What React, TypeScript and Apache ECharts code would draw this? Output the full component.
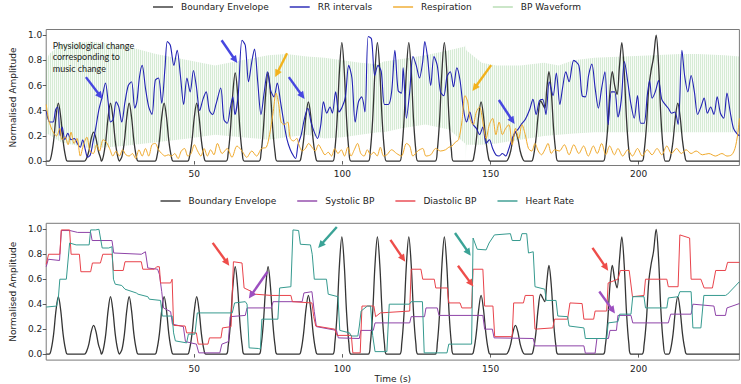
import React, { useEffect, useRef } from "react";
import * as echarts from "echarts";

// ---- axes -------------------------------------------------------------
const X_MAX = 234;
const X_TICKS = [50, 100, 150, 200];
const Y_TICKS = [0, 0.2, 0.4, 0.6, 0.8, 1.0];

// ---- boundary envelope (time s, amplitude) ----------------------------
const ENVELOPE: number[][] = [
  [0, 0],
  [1.0, 0], [1.7, 0.04], [2.5, 0.16], [3.3, 0.35], [4.1, 0.46], [4.9, 0.35], [5.7, 0.16], [6.5, 0.04], [7.2, 0],
  [12.9, 0], [13.6, 0.02], [14.4, 0.08], [15.2, 0.18], [16.0, 0.23], [16.8, 0.18], [17.6, 0.08], [18.4, 0.02],
  [18.6, 0], [19.3, 0.04], [20.1, 0.16], [20.9, 0.35], [21.7, 0.46], [22.5, 0.35], [23.3, 0.16], [24.1, 0.04], [24.8, 0],
  [24.9, 0], [25.6, 0.04], [26.4, 0.16], [27.2, 0.35], [28.0, 0.46], [28.8, 0.35], [29.6, 0.16], [30.4, 0.04], [31.1, 0],
  [36.7, 0], [37.4, 0.04], [38.2, 0.16], [39.0, 0.35], [39.8, 0.46], [40.6, 0.35], [41.4, 0.16], [42.2, 0.04], [42.9, 0],
  [47.7, 0], [48.4, 0.04], [49.2, 0.16], [50.0, 0.35], [50.8, 0.46], [51.6, 0.35], [52.4, 0.16], [53.2, 0.04], [53.9, 0],
  [60.7, 0], [61.4, 0.06], [62.2, 0.25], [63.0, 0.54], [63.8, 0.70], [64.6, 0.54], [65.4, 0.25], [66.2, 0.06], [66.9, 0],
  [71.8, 0], [72.5, 0.06], [73.3, 0.25], [74.1, 0.54], [74.9, 0.70], [75.7, 0.54], [76.5, 0.25], [77.3, 0.06], [78.0, 0],
  [85.4, 0], [86.1, 0.04], [86.9, 0.17], [87.7, 0.36], [88.5, 0.47], [89.3, 0.36], [90.1, 0.17], [90.9, 0.04], [91.6, 0],
  [96.7, 0], [97.4, 0.08], [98.2, 0.33], [99.0, 0.72], [99.8, 0.94], [100.6, 0.72], [101.4, 0.33], [102.2, 0.08], [102.9, 0],
  [108.7, 0], [109.4, 0.08], [110.2, 0.33], [111.0, 0.72], [111.8, 0.94], [112.6, 0.72], [113.4, 0.33], [114.2, 0.08], [114.9, 0],
  [119.3, 0], [120.0, 0.08], [120.8, 0.33], [121.6, 0.72], [122.4, 0.94], [123.2, 0.72], [124.0, 0.33], [124.8, 0.08], [125.5, 0],
  [131.3, 0], [132.0, 0.08], [132.8, 0.33], [133.6, 0.72], [134.4, 0.94], [135.2, 0.72], [136.0, 0.33], [136.8, 0.08], [137.5, 0],
  [143.7, 0], [144.4, 0.04], [145.2, 0.17], [146.0, 0.36], [146.8, 0.47], [147.6, 0.36], [148.4, 0.17], [149.2, 0.04], [149.9, 0],
  [155.3, 0], [156.0, 0.02], [156.8, 0.08], [157.6, 0.18], [158.4, 0.23], [159.2, 0.18], [160.0, 0.08], [160.8, 0.02], [161.5, 0],
  [163.8, 0], [164.5, 0.04], [165.3, 0.17], [166.1, 0.37], [166.9, 0.48], [167.6, 0.45], [168.3, 0.42], [169.0, 0.58], [169.7, 0.71], [170.5, 0.55], [171.3, 0.25], [172.1, 0.06], [172.8, 0],
  [188.0, 0], [188.7, 0.06], [189.5, 0.25], [190.3, 0.55], [191.1, 0.71], [191.9, 0.60], [192.7, 0.53], [193.5, 0.75], [194.3, 0.94], [195.1, 0.72], [195.9, 0.33], [196.7, 0.08], [197.4, 0],
  [201.1, 0], [201.8, 0.07], [202.6, 0.27], [203.4, 0.58], [204.2, 0.72], [205.0, 0.82], [205.9, 1.0], [206.7, 0.77], [207.5, 0.35], [208.3, 0.09], [209.0, 0],
  [210.1, 0], [210.8, 0.04], [211.6, 0.16], [212.4, 0.35], [213.2, 0.46], [214.0, 0.35], [214.8, 0.16], [215.6, 0.04], [216.3, 0],
  [234, 0],
];

// ---- top panel signals ------------------------------------------------
const RR_INTERVALS: number[][] = [
  [0, 0.40], [1.2, 0.31], [2.3, 0.31], [3.2, 0.41], [3.9, 0.43], [4.7, 0.20], [5.4, 0.27], [6.3, 0.17], [7.3, 0.22], [8.4, 0.17],
  [9.5, 0.18], [10.5, 0.14], [11.5, 0.11], [12.3, 0.17], [13.2, 0.09], [14.0, 0.03], [14.9, 0.05], [15.7, 0.14], [16.7, 0.26], [17.8, 0.41],
  [18.9, 0.51], [20.0, 0.62], [20.9, 0.47], [21.7, 0.31], [22.6, 0.33], [23.6, 0.47], [24.5, 0.43], [25.5, 0.31], [26.6, 0.47], [27.7, 0.60],
  [28.8, 0.63], [29.9, 0.42], [30.6, 0.47], [31.5, 0.67], [32.4, 0.76], [33.5, 0.58], [34.6, 0.43], [35.7, 0.37], [36.8, 0.64], [37.9, 0.66],
  [39.0, 0.46], [40.1, 0.74], [40.9, 0.95], [41.9, 0.92], [43.1, 0.76], [44.2, 0.88], [45.3, 0.68], [46.4, 0.45], [47.5, 0.66], [48.6, 0.55],
  [49.7, 0.72], [50.7, 0.59], [51.8, 0.40], [52.9, 0.49], [54.0, 0.55], [55.1, 0.40], [56.2, 0.37], [57.3, 0.45], [58.9, 0.58], [60.0, 0.33],
  [61.1, 0.30], [62.2, 0.43], [63.0, 0.51], [63.7, 0.37], [64.8, 0.52], [66.1, 0.96], [67.2, 0.92], [68.3, 0.63], [69.4, 0.79], [70.3, 0.89],
  [71.4, 0.63], [72.5, 0.37], [73.6, 0.55], [74.7, 0.71], [75.8, 0.56], [76.9, 0.51], [78.0, 0.62], [79.1, 0.47], [80.2, 0.31], [81.3, 0.17],
  [82.4, 0.09], [83.5, 0.04], [84.2, 0.02], [85.0, 0.13], [86.1, 0.21], [87.2, 0.34], [88.3, 0.42], [89.4, 0.31], [90.5, 0.23], [91.6, 0.18],
  [92.7, 0.29], [93.6, 0.47], [94.7, 0.38], [95.8, 0.43], [96.6, 0.38], [97.7, 0.55], [98.8, 0.39], [99.9, 0.43], [101.0, 0.51], [102.1, 0.76],
  [103.2, 0.66], [104.3, 0.31], [105.4, 0.47], [106.5, 0.51], [107.6, 0.39], [108.7, 0.99], [109.8, 0.97], [110.9, 0.68], [112.0, 0.76], [113.1, 0.71],
  [114.2, 0.45], [115.5, 0.45], [116.6, 0.55], [117.7, 0.88], [118.8, 0.56], [119.9, 0.54], [120.5, 0.74], [121.6, 0.34], [122.7, 0.55], [123.8, 0.83],
  [124.9, 0.76], [126.0, 0.66], [127.1, 0.79], [127.8, 0.95], [128.7, 0.83], [129.8, 0.60], [130.9, 0.83], [132.0, 0.76], [133.1, 0.55], [134.2, 0.52],
  [135.3, 0.67], [136.4, 0.71], [137.5, 0.59], [138.6, 0.74], [139.7, 0.64], [140.8, 0.42], [141.9, 0.31], [143.0, 0.39], [144.1, 0.29], [145.2, 0.26],
  [146.3, 0.21], [147.4, 0.27], [148.5, 0.14], [149.6, 0.17], [150.7, 0.10], [151.8, 0.05], [152.9, 0.04], [154.0, 0.06], [155.1, 0.04], [156.2, 0.10],
  [157.3, 0.18], [158.4, 0.23], [159.5, 0.26], [160.6, 0.30], [161.7, 0.33], [163.2, 0.41], [164.3, 0.49], [165.4, 0.37], [166.5, 0.48], [167.6, 0.49],
  [168.7, 0.37], [169.8, 0.63], [171.1, 0.52], [172.2, 0.70], [173.4, 0.45], [174.3, 0.58], [175.4, 0.71], [176.5, 0.63], [178.1, 0.80], [179.8, 0.76],
  [180.9, 0.52], [182.0, 0.51], [183.1, 0.68], [184.2, 0.77], [185.3, 0.58], [186.4, 0.42], [187.5, 0.58], [188.6, 0.71], [189.7, 0.29], [190.8, 0.55],
  [191.9, 0.55], [193.0, 0.35], [194.1, 0.48], [195.2, 0.79], [196.3, 0.63], [197.4, 0.45], [198.5, 0.34], [199.6, 0.52], [200.7, 0.30], [201.8, 0.30],
  [202.9, 0.52], [203.7, 0.64], [204.5, 0.50], [205.6, 0.55], [206.7, 0.64], [207.8, 0.49], [208.9, 0.45], [210.0, 0.42], [211.1, 0.38], [212.2, 0.39],
  [213.3, 0.29], [214.6, 0.88], [215.5, 0.68], [216.6, 0.55], [217.7, 0.68], [218.8, 0.55], [219.9, 0.37], [221.0, 0.43], [222.1, 0.50], [223.2, 0.38],
  [224.3, 0.43], [225.4, 0.37], [226.5, 0.51], [227.6, 0.38], [228.7, 0.34], [229.8, 0.54], [230.9, 0.39], [232.0, 0.26], [233.1, 0.22], [234.0, 0.20],
];

const RESPIRATION: number[][] = [
  [0, 0.45], [0.8, 0.33], [1.6, 0.27], [2.6, 0.22], [3.5, 0.20], [4.6, 0.26], [5.3, 0.17], [6.4, 0.19], [7.4, 0.13], [8.4, 0.23],
  [9.4, 0.14], [10.4, 0.18], [11.5, 0.04], [12.6, 0.13], [13.7, 0.19], [14.8, 0.08], [15.9, 0.06], [17.0, 0.13], [18.0, 0.08], [19.2, 0.17],
  [20.3, 0.15], [21.4, 0.10], [22.5, 0.04], [23.6, 0.08], [24.7, 0.04], [25.8, 0.09], [26.9, 0.05], [28.0, 0.04], [29.1, 0.06], [30.2, 0.02],
  [31.3, 0.09], [32.4, 0.04], [33.5, 0.10], [34.6, 0.04], [35.7, 0.13], [36.8, 0.14], [37.9, 0.09], [39.0, 0.06], [40.1, 0.04], [41.2, 0.05],
  [42.3, 0.04], [43.4, 0.06], [44.5, 0.02], [45.6, 0.08], [46.7, 0.10], [47.8, 0.04], [48.9, 0.06], [50.0, 0.13], [51.1, 0.08], [52.2, 0.04],
  [53.3, 0.10], [54.4, 0.04], [55.5, 0.09], [56.6, 0.05], [57.8, 0.14], [59.4, 0.06], [61.1, 0.10], [62.7, 0.03], [64.4, 0.12], [66.1, 0.08],
  [67.7, 0.03], [69.4, 0.08], [71.0, 0.04], [72.7, 0.10], [74.3, 0.11], [75.4, 0.21], [76.5, 0.37], [77.6, 0.54], [78.5, 0.45], [79.3, 0.31],
  [80.4, 0.29], [81.5, 0.31], [82.4, 0.18], [83.5, 0.16], [84.6, 0.18], [85.3, 0.13], [86.4, 0.08], [87.5, 0.10], [88.6, 0.14], [89.7, 0.11],
  [90.8, 0.08], [91.9, 0.13], [93.0, 0.09], [94.1, 0.05], [95.2, 0.07], [96.3, 0.04], [97.4, 0.10], [98.5, 0.06], [99.6, 0.09], [100.7, 0.04],
  [101.8, 0.11], [102.9, 0.04], [104.0, 0.09], [105.1, 0.14], [106.2, 0.06], [107.3, 0.04], [108.4, 0.09], [109.5, 0.05], [110.6, 0.07], [111.7, 0.04],
  [112.8, 0.11], [113.9, 0.04], [115.0, 0.05], [116.6, 0.09], [118.3, 0.06], [119.9, 0.04], [121.6, 0.14], [122.7, 0.12], [123.8, 0.04], [125.4, 0.08],
  [127.1, 0.10], [128.2, 0.04], [129.8, 0.05], [131.5, 0.10], [133.1, 0.08], [134.8, 0.09], [135.9, 0.11], [137.0, 0.12], [138.1, 0.15], [139.2, 0.17],
  [140.3, 0.31], [141.4, 0.52], [142.3, 0.47], [143.0, 0.34], [144.1, 0.29], [145.2, 0.39], [146.3, 0.43], [147.4, 0.31], [148.5, 0.18], [149.6, 0.29],
  [150.7, 0.34], [151.8, 0.21], [152.9, 0.31], [154.0, 0.21], [155.1, 0.26], [156.2, 0.29], [157.3, 0.13], [158.4, 0.26], [159.5, 0.18], [160.6, 0.29],
  [161.7, 0.21], [162.8, 0.10], [163.9, 0.08], [165.0, 0.14], [166.1, 0.08], [167.2, 0.05], [168.3, 0.09], [169.4, 0.14], [170.5, 0.06], [171.6, 0.09],
  [173.2, 0.08], [174.9, 0.13], [176.5, 0.05], [178.1, 0.13], [179.8, 0.06], [181.4, 0.12], [183.0, 0.04], [184.7, 0.12], [186.0, 0.06], [187.5, 0.14],
  [188.9, 0.05], [190.2, 0.12], [191.8, 0.05], [193.0, 0.10], [194.6, 0.04], [196.3, 0.09], [197.9, 0.04], [199.6, 0.10], [201.2, 0.04], [202.9, 0.09],
  [204.5, 0.05], [206.2, 0.10], [207.8, 0.05], [209.5, 0.12], [211.1, 0.06], [212.8, 0.10], [214.4, 0.06], [216.0, 0.09], [217.7, 0.06], [219.4, 0.08],
  [221.5, 0.05], [223.7, 0.06], [225.9, 0.04], [228.1, 0.06], [229.8, 0.04], [231.4, 0.05], [232.5, 0.10], [233.4, 0.21], [234.0, 0.34],
];

// BP waveform drawn as the band between its beat-to-beat extremes
const BP_TIME = [0, 1, 5, 15, 26, 37, 48, 57, 66, 75, 81, 88, 94, 100, 106, 112, 114, 120, 128, 136,
  141.4, 141.6, 141.8, 147, 152, 160, 168, 173, 178, 185, 195, 205, 214, 220, 229, 234];
const BP_UPPER = [0.80, 0.85, 0.93, 0.95, 0.92, 0.85, 0.80, 0.76, 0.80, 0.84, 0.85, 0.83, 0.82, 0.80, 0.78, 0.77, 0.79, 0.81, 0.84, 0.88,
  0.91, 0.93, 0.88, 0.78, 0.76, 0.76, 0.78, 0.76, 0.80, 0.82, 0.83, 0.84, 0.85, 0.85, 0.84, 0.83];
const BP_LOWER = [0.22, 0.21, 0.15, 0.10, 0.12, 0.15, 0.18, 0.21, 0.19, 0.17, 0.19, 0.21, 0.18, 0.19, 0.21, 0.23, 0.23, 0.26, 0.29, 0.25,
  0.14, 0.00, 0.13, 0.13, 0.14, 0.17, 0.20, 0.21, 0.22, 0.23, 0.23, 0.23, 0.23, 0.23, 0.23, 0.23];

// ---- bottom panel signals ---------------------------------------------
const SYSTOLIC_BP: number[][] = [
  [0, 0.70], [0.7, 0.76], [4.5, 0.75], [5.1, 0.99], [8.0, 0.99], [10.6, 0.975], [15.0, 0.975], [15.5, 0.91], [22.2, 0.91], [22.8, 0.81],
  [32.1, 0.80], [33.5, 0.82], [34.3, 0.69], [37.6, 0.68], [38.2, 0.64], [39.0, 0.50], [39.6, 0.37], [42.0, 0.34], [42.6, 0.24], [46.3, 0.22],
  [47.0, 0.10], [50.7, 0.08], [51.5, 0.01], [58.6, 0.01], [59.3, 0.08], [61.5, 0.10], [62.1, 0.30], [67.2, 0.31], [67.8, 0.37], [76.0, 0.37],
  [76.6, 0.42], [86.4, 0.42], [87.0, 0.49], [89.7, 0.50], [90.5, 0.34], [91.2, 0.22], [98.0, 0.19], [98.6, 0.13], [105.7, 0.125], [106.2, 0.19],
  [110.4, 0.19], [111.0, 0.25], [122.7, 0.25], [123.2, 0.30], [127.7, 0.30], [128.2, 0.37], [132.0, 0.37], [132.6, 0.31], [147.4, 0.31], [148.0, 0.20],
  [150.6, 0.20], [151.2, 0.13], [164.4, 0.125], [165.0, 0.066], [181.5, 0.066], [182.0, 0.008], [185.3, 0.008], [185.9, 0.125], [189.8, 0.125], [190.3, 0.19],
  [192.5, 0.19], [193.0, 0.31], [197.4, 0.31], [198.0, 0.25], [210.0, 0.25], [210.8, 0.32], [217.7, 0.32], [218.3, 0.40], [225.4, 0.385], [226.0, 0.31],
  [229.3, 0.31], [229.8, 0.37], [234, 0.405],
];

const DIASTOLIC_BP: number[][] = [
  [0, 0.72], [0.8, 0.80], [4.6, 0.80], [5.1, 0.995], [7.9, 0.995], [8.4, 0.80], [11.2, 0.80], [11.7, 0.66], [15.0, 0.66], [15.6, 0.73],
  [18.3, 0.73], [19.1, 0.80], [22.2, 0.80], [22.7, 0.67], [26.0, 0.67], [26.6, 0.74], [32.1, 0.74], [32.6, 0.68], [36.5, 0.68], [37.3, 0.70],
  [38.2, 0.70], [38.6, 0.57], [42.0, 0.57], [42.5, 0.60], [43.0, 0.23], [46.9, 0.225], [47.4, 0.17], [50.7, 0.17], [51.3, 0.08], [54.6, 0.08],
  [55.1, 0.13], [59.0, 0.13], [59.5, 0.21], [62.4, 0.22], [63.2, 0.74], [66.1, 0.73], [66.8, 0.53], [69.4, 0.50], [70.5, 0.48], [76.0, 0.47],
  [82.6, 0.47], [83.1, 0.42], [89.7, 0.41], [90.3, 0.30], [91.0, 0.225], [97.4, 0.20], [98.2, 0.15], [103.0, 0.15], [103.5, 0.01], [106.0, 0.01],
  [106.6, 0.385], [110.6, 0.385], [111.2, 0.30], [112.8, 0.33], [122.7, 0.345], [123.2, 0.68], [126.5, 0.68], [127.1, 0.60], [131.0, 0.60], [131.5, 0.53],
  [135.4, 0.53], [135.9, 0.41], [139.7, 0.41], [140.3, 0.37], [143.6, 0.37], [144.1, 0.68], [147.4, 0.68], [148.0, 0.385], [150.8, 0.385], [151.4, 0.14],
  [157.3, 0.14], [157.8, 0.41], [161.1, 0.41], [161.7, 0.47], [164.4, 0.47], [165.0, 0.20], [171.0, 0.21], [171.6, 0.28], [176.0, 0.28], [176.8, 0.41],
  [180.9, 0.405], [181.5, 0.28], [184.8, 0.28], [185.3, 0.345], [189.2, 0.345], [189.7, 0.57], [193.0, 0.60], [193.8, 0.67], [196.8, 0.67], [197.9, 0.46],
  [201.8, 0.47], [202.3, 0.60], [209.5, 0.60], [210.0, 0.54], [213.3, 0.54], [213.9, 0.955], [217.2, 0.93], [217.7, 0.60], [221.0, 0.60], [222.1, 0.53],
  [224.9, 0.53], [226.0, 0.67], [229.3, 0.67], [230.0, 0.735], [234, 0.735],
];

const HEART_RATE: number[][] = [
  [0, 0.377], [3.5, 0.385], [4.1, 0.45], [4.6, 0.60], [6.8, 0.60], [7.9, 0.89], [10.1, 0.875], [14.5, 0.875], [15.0, 0.995], [16.7, 0.995],
  [17.8, 1.0], [18.9, 0.85], [21.1, 0.85], [22.2, 0.86], [22.7, 0.60], [23.3, 0.56], [25.5, 0.55], [26.6, 0.52], [30.4, 0.49], [31.0, 0.48],
  [34.3, 0.46], [34.8, 0.44], [38.6, 0.43], [39.2, 0.305], [42.5, 0.305], [43.0, 0.17], [43.6, 0.106], [47.4, 0.09], [48.0, 0.16], [50.2, 0.16],
  [51.0, 0.33], [62.8, 0.33], [63.6, 0.41], [67.2, 0.42], [67.8, 0.40], [68.5, 0.05], [71.6, 0.045], [72.3, 0.04], [72.8, 0.28], [78.2, 0.28],
  [78.8, 0.53], [82.6, 0.54], [83.3, 0.995], [85.2, 0.99], [85.8, 0.88], [89.2, 0.875], [89.8, 0.80], [90.5, 0.60], [94.6, 0.60], [95.2, 0.48],
  [98.5, 0.46], [99.1, 0.19], [102.4, 0.17], [102.9, 0.145], [105.2, 0.145], [105.7, 0.225], [106.3, 0.345], [108.4, 0.385], [109.5, 0.385], [110.2, 0.15],
  [111.0, 0.02], [115.0, 0.02], [115.8, 0.40], [122.6, 0.40], [123.2, 0.42], [127.0, 0.42], [127.6, 0.01], [135.3, 0.01], [135.9, 0.08], [143.6, 0.08],
  [144.1, 0.93], [145.5, 0.84], [148.5, 0.835], [149.5, 0.89], [151.3, 0.955], [156.7, 0.965], [157.3, 0.91], [160.0, 0.91], [160.6, 0.965], [162.2, 0.965],
  [162.8, 0.81], [164.4, 0.82], [165.0, 0.54], [168.3, 0.52], [168.8, 0.43], [172.1, 0.43], [172.7, 0.305], [176.0, 0.30], [176.5, 0.225], [181.5, 0.21],
  [182.0, 0.125], [189.2, 0.125], [189.7, 0.25], [193.0, 0.26], [193.6, 0.32], [197.4, 0.32], [198.0, 0.46], [201.8, 0.46], [202.3, 0.37], [209.5, 0.37],
  [210.0, 0.45], [213.3, 0.46], [213.9, 0.50], [217.7, 0.50], [218.3, 0.21], [221.0, 0.21], [222.0, 0.47], [229.3, 0.47], [230.0, 0.48], [234, 0.58],
];

// ---- annotation arrows: [tailX, tailY, headX, headY] in data units ----
const TOP_ARROWS: { color: string; at: number[] }[] = [
  { color: "#4747e0", at: [13.4, 0.667, 19.0, 0.493] },
  { color: "#4747e0", at: [59.2, 0.96, 64.5, 0.778] },
  { color: "#f2b21c", at: [81.3, 0.857, 77.3, 0.667] },
  { color: "#4747e0", at: [81.9, 0.667, 87.2, 0.493] },
  { color: "#f2b21c", at: [150.2, 0.762, 143.9, 0.557] },
  { color: "#4747e0", at: [152.8, 0.485, 158.1, 0.295] },
];
const BOTTOM_ARROWS: { color: string; at: number[] }[] = [
  { color: "#ee4d4a", at: [56.2, 0.891, 61.8, 0.708] },
  { color: "#9c4fc0", at: [74.7, 0.66, 68.4, 0.445] },
  { color: "#3aa396", at: [98.1, 1.018, 91.8, 0.851] },
  { color: "#ee4d4a", at: [116.2, 0.915, 121.2, 0.74] },
  { color: "#3aa396", at: [138.0, 0.97, 143.3, 0.788] },
  { color: "#ee4d4a", at: [139.0, 0.708, 144.2, 0.541] },
  { color: "#ee4d4a", at: [184.4, 0.851, 189.7, 0.668] },
  { color: "#9c4fc0", at: [186.7, 0.501, 192.0, 0.326] },
];

const NOTE_TEXT = "Physiological change\ncorresponding to\nmusic change";
const NOTE_AT = [2.2, 0.967];

const FONT = "DejaVu Sans";
const C = {
  envelope: "#353535",
  rr: "#2222b4",
  resp: "#f0a92a",
  bp: "#b5dcb0",
  sys: "#8e44a8",
  dia: "#e8434b",
  hr: "#369a8f",
};

function stripePattern() {
  const c = document.createElement("canvas");
  c.width = 2;
  c.height = 2;
  const ctx = c.getContext("2d")!;
  ctx.fillStyle = "rgba(120,190,116,0.30)";
  ctx.fillRect(0, 0, 1, 2);
  ctx.fillStyle = "rgba(120,190,116,0.06)";
  ctx.fillRect(1, 0, 1, 2);
  return { image: c, repeat: "repeat", imageWidth: 2, imageHeight: 2 } as any;
}

function xAxis(i: number) {
  return {
    type: "value",
    gridIndex: i,
    min: 0,
    max: X_MAX,
    axisLine: { show: false },
    splitLine: { show: false },
    axisTick: { show: true, customValues: X_TICKS, length: 3.5, lineStyle: { color: "#333", width: 0.8 } },
    axisLabel: { customValues: X_TICKS, fontSize: 9, fontFamily: FONT, color: "#222", margin: 4 },
    name: i === 1 ? "Time (s)" : "",
    nameLocation: "middle",
    nameGap: 11,
    nameTextStyle: { fontSize: 9, fontFamily: FONT, color: "#222" },
  };
}

function yAxis(i: number, min: number, max: number) {
  return {
    type: "value",
    gridIndex: i,
    min,
    max,
    axisLine: { show: false },
    splitLine: { show: false },
    axisTick: { show: true, customValues: Y_TICKS, length: 3.5, lineStyle: { color: "#333", width: 0.8 } },
    axisLabel: {
      customValues: Y_TICKS,
      fontSize: 9,
      fontFamily: FONT,
      color: "#222",
      margin: 4,
      formatter: (v: number) => v.toFixed(1),
    },
    name: "Normalised Amplitude",
    nameLocation: "middle",
    nameGap: 25,
    nameTextStyle: { fontSize: 9, fontFamily: FONT, color: "#222" },
  };
}

function line(name: string, data: number[][], color: string, grid: number, width = 1, smooth: number | boolean = 0.3) {
  return {
    name,
    type: "line",
    xAxisIndex: grid,
    yAxisIndex: grid,
    data,
    showSymbol: false,
    symbol: "none",
    smooth,
    lineStyle: { color, width },
    itemStyle: { color },
    silent: true,
  };
}

function legend(left: number, top: number, names: string[]) {
  return {
    left,
    top,
    padding: 0,
    orient: "horizontal",
    icon: "rect",
    itemWidth: 20,
    itemHeight: 1.4,
    itemGap: 21,
    selectedMode: false,
    data: names,
    textStyle: { fontSize: 9, fontFamily: FONT, color: "#222", padding: [0, 0, 0, 3] },
  };
}

function arrowShapes(chart: echarts.ECharts, gridIndex: number, color: string, at: number[]) {
  const [x0, y0] = chart.convertToPixel({ gridIndex }, [at[0], at[1]]) as number[];
  const [x1, y1] = chart.convertToPixel({ gridIndex }, [at[2], at[3]]) as number[];
  const dx = x1 - x0;
  const dy = y1 - y0;
  const len = Math.hypot(dx, dy);
  const ux = dx / len;
  const uy = dy / len;
  const headLen = 7.5;
  const half = 3.6;
  const bx = x1 - ux * headLen;
  const by = y1 - uy * headLen;
  return [
    {
      type: "line",
      silent: true,
      shape: { x1: x0, y1: y0, x2: bx + ux * 1, y2: by + uy * 1 },
      style: { stroke: color, lineWidth: 2.4 },
      z: 100,
    },
    {
      type: "polygon",
      silent: true,
      shape: { points: [[x1, y1], [bx - uy * half, by + ux * half], [bx + uy * half, by - ux * half]] },
      style: { fill: color },
      z: 100,
    },
  ];
}

export default function App() {
  const ref = useRef<HTMLDivElement>(null);

  useEffect(() => {
    if (!ref.current) return;
    const chart = echarts.init(ref.current, null, { renderer: "svg" });
    const stripes = stripePattern();

    const option: any = {
      animation: false,
      backgroundColor: "#ffffff",
      legend: [
        legend(153, 2.5, ["Boundary Envelope", "RR intervals", "Respiration", "BP Waveform"]),
        legend(160.5, 196.5, ["Boundary Envelope", "Systolic BP", "Diastolic BP", "Heart Rate"]),
      ],
      grid: [
        { left: 29.4, top: 29.5, width: 710, height: 136, show: true, borderColor: "#7a7a7a", borderWidth: 1, backgroundColor: "transparent" },
        { left: 29.4, top: 223.3, width: 710, height: 137.7, show: true, borderColor: "#7a7a7a", borderWidth: 1, backgroundColor: "transparent" },
      ],
      xAxis: [xAxis(0), xAxis(1)],
      yAxis: [yAxis(0, -0.035, 1.045), yAxis(1, -0.048, 1.048)],
      series: [
        {
          name: "BP Waveform",
          type: "custom",
          xAxisIndex: 0,
          yAxisIndex: 0,
          silent: true,
          itemStyle: { color: C.bp },
          data: [[BP_TIME[0], BP_LOWER[0]]],
          encode: { x: 0, y: 1 },
          z: 1,
          renderItem: (_params: any, api: any) => {
            const pts: number[][] = [];
            for (let i = 0; i < BP_TIME.length; i++) pts.push(api.coord([BP_TIME[i], BP_UPPER[i]]));
            for (let i = BP_TIME.length - 1; i >= 0; i--) pts.push(api.coord([BP_TIME[i], BP_LOWER[i]]));
            return { type: "polygon", shape: { points: pts }, style: { fill: stripes, stroke: null } };
          },
        },
        { ...line("Boundary Envelope", ENVELOPE, C.envelope, 0, 1.3, 0.35), z: 2 },
        { ...line("RR intervals", RR_INTERVALS, C.rr, 0, 1.1), z: 3 },
        { ...line("Respiration", RESPIRATION, C.resp, 0, 1.0), z: 4 },
        { ...line("Boundary Envelope", ENVELOPE, C.envelope, 1, 1.3, 0.35), z: 2 },
        { ...line("Systolic BP", SYSTOLIC_BP, C.sys, 1, 1.0, false), z: 3 },
        { ...line("Diastolic BP", DIASTOLIC_BP, C.dia, 1, 1.0, false), z: 4 },
        { ...line("Heart Rate", HEART_RATE, C.hr, 1, 1.0, false), z: 5 },
      ],
    };

    chart.setOption(option);

    const graphics: any[] = [];
    TOP_ARROWS.forEach((a) => graphics.push(...arrowShapes(chart, 0, a.color, a.at)));
    BOTTOM_ARROWS.forEach((a) => graphics.push(...arrowShapes(chart, 1, a.color, a.at)));
    const [nx, ny] = chart.convertToPixel({ gridIndex: 0 }, NOTE_AT) as number[];
    graphics.push({
      type: "text",
      silent: true,
      x: nx,
      y: ny,
      z: 100,
      style: {
        text: NOTE_TEXT,
        fontSize: 9,
        fontFamily: "Lato",
        fill: "#222",
        lineHeight: 11.7,
        verticalAlign: "top",
        align: "left",
      },
    });
    chart.setOption({ graphic: graphics });

    return () => chart.dispose();
  }, []);

  return <div ref={ref} style={{ position: "fixed", left: 0, top: 0, width: 741, height: 384 }} />;
}
